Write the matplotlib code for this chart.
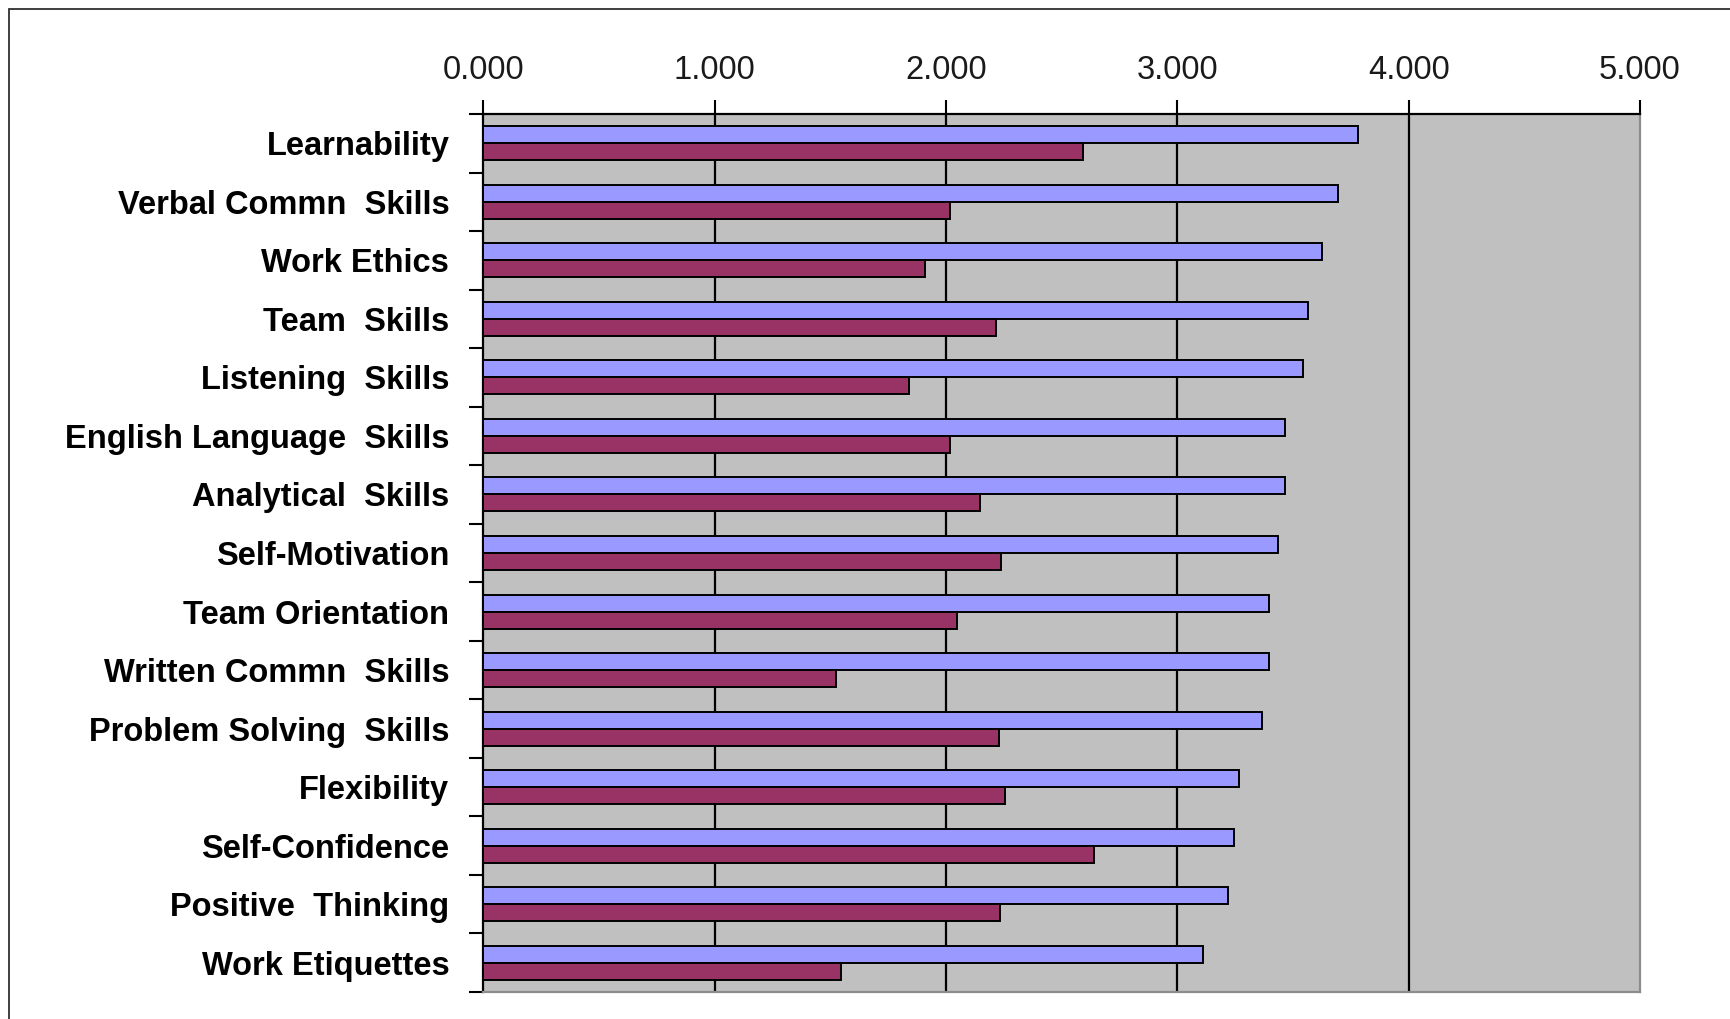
import matplotlib
matplotlib.use("Agg")
import matplotlib.pyplot as plt
from matplotlib.patches import Rectangle
import numpy as np

# ── DATA ─────────────────────────────────────────────────────────────────
skills = [
    "Learnability",
    "Verbal Commn  Skills",
    "Work Ethics",
    "Team  Skills",
    "Listening  Skills",
    "English Language  Skills",
    "Analytical  Skills",
    "Self-Motivation",
    "Team Orientation",
    "Written Commn  Skills",
    "Problem Solving  Skills",
    "Flexibility",
    "Self-Confidence",
    "Positive  Thinking",
    "Work Etiquettes",
]
importance = [3.783, 3.693, 3.624, 3.566, 3.544, 3.466, 3.466, 3.436,
              3.397, 3.397, 3.368, 3.268, 3.247, 3.219, 3.109]
performance = [2.591, 2.019, 1.911, 2.217, 1.841, 2.019, 2.148, 2.236,
               2.049, 1.526, 2.228, 2.257, 2.640, 2.234, 1.546]
x_ticks = [0, 1, 2, 3, 4, 5]

# ── STYLE ────────────────────────────────────────────────────────────────
plt.rcParams["font.family"] = ["Liberation Sans", "DejaVu Sans"]
BLUE = "#9999FF"
MAROON = "#993366"
PLOT_BG = "#C0C0C0"

fig = plt.figure(figsize=(17.31, 10.19), dpi=100)
ax = fig.add_axes([483.4 / 1731, 27 / 1019, 1156.6 / 1731, 878 / 1019])
ax.set_facecolor(PLOT_BG)

# outer chart frame (runs off the right and bottom edges)
fig.patches.append(Rectangle((9 / 1731, -0.1), 1.2, 1 - 9 / 1019 + 0.1,
                             transform=fig.transFigure, fill=False,
                             edgecolor="#303030", linewidth=1.3))

y = np.arange(len(skills))
h = 0.29
ax.barh(y - h / 2, importance, height=h, color=BLUE, edgecolor="black",
        linewidth=1.4, zorder=3)
ax.barh(y + h / 2, performance, height=h, color=MAROON, edgecolor="black",
        linewidth=1.4, zorder=3)

ax.set_xlim(0, 5)
ax.set_ylim(len(skills) - 0.5, -0.5)

# value axis on top with 3-decimal labels
ax.xaxis.tick_top()
ax.set_xticks(x_ticks)
ax.set_xticklabels([f"{v:.3f}" for v in x_ticks])
ax.tick_params(axis="x", which="major", direction="out", length=10, width=1.5,
               pad=10, labelsize=23.5, labelcolor="#1a1a1a")
for xv in x_ticks[1:-1]:
    ax.axvline(xv, color="black", linewidth=1.6, zorder=1)

# category labels centred, tick marks between categories
ax.set_yticks(y)
ax.set_yticklabels(skills, fontweight="bold")
ax.tick_params(axis="y", which="major", length=0, pad=24.5, labelsize=23.5)
ax.set_yticks(np.arange(len(skills) + 1) - 0.5, minor=True)
ax.tick_params(axis="y", which="minor", direction="out", length=10, width=1.5)

for side in ("top", "left"):
    ax.spines[side].set_color("black")
    ax.spines[side].set_linewidth(1.6)
for side in ("bottom", "right"):
    ax.spines[side].set_color("#8c8c8c")
    ax.spines[side].set_linewidth(1.6)

fig.savefig("out.png", dpi=100)
